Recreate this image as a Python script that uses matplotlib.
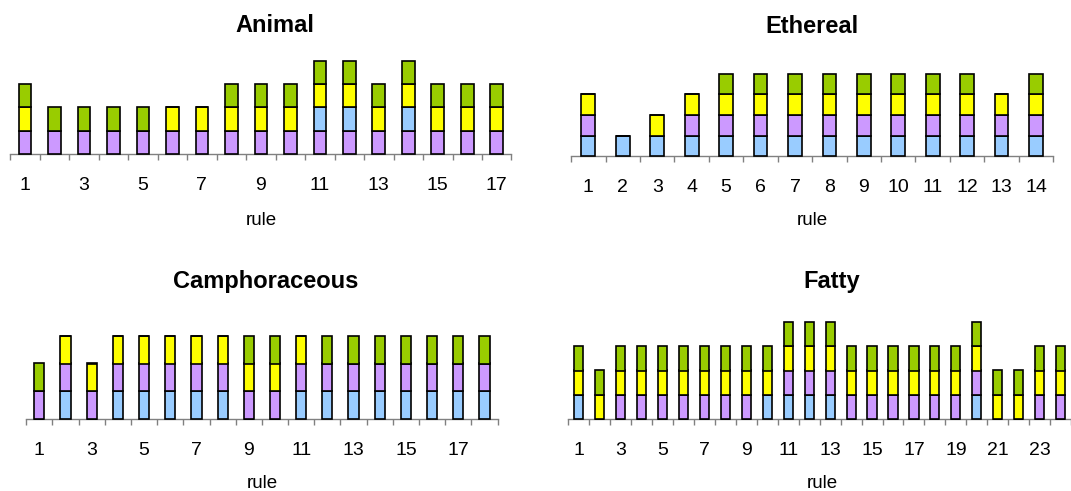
import matplotlib
matplotlib.use("Agg")
import matplotlib.pyplot as plt
import numpy as np

plt.rcParams['font.family'] = ['Liberation Sans', 'DejaVu Sans']

# ---------------- data ----------------
animal_rules = list(range(1, 18))
animal_purple = [1] * 17
animal_blue = [0, 0, 0, 0, 0, 0, 0, 0, 0, 0, 1, 1, 0, 1, 0, 0, 0]
animal_yellow = [1, 0, 0, 0, 0, 1, 1, 1, 1, 1, 1, 1, 1, 1, 1, 1, 1]
animal_green = [1, 1, 1, 1, 1, 0, 0, 1, 1, 1, 1, 1, 1, 1, 1, 1, 1]

ethereal_rules = list(range(1, 15))
ethereal_blue = [1] * 14
ethereal_purple = [1, 0, 0, 1, 1, 1, 1, 1, 1, 1, 1, 1, 1, 1]
ethereal_yellow = [1, 0, 1, 1, 1, 1, 1, 1, 1, 1, 1, 1, 1, 1]
ethereal_green = [0, 0, 0, 0, 1, 1, 1, 1, 1, 1, 1, 1, 0, 1]

camph_rules = list(range(1, 19))
camph_blue = [0, 1, 0, 1, 1, 1, 1, 1, 0, 0, 1, 1, 1, 1, 1, 1, 1, 1]
camph_purple = [1] * 18
camph_yellow = [0, 1, 1, 1, 1, 1, 1, 1, 1, 1, 1, 0, 0, 0, 0, 0, 0, 0]
camph_green = [1, 0, 0, 0, 0, 0, 0, 0, 1, 1, 0, 1, 1, 1, 1, 1, 1, 1]

fatty_rules = list(range(1, 25))
fatty_blue = [1, 0, 0, 0, 0, 0, 0, 0, 0, 1, 1, 1, 1, 0, 0, 0, 0, 0, 0, 1, 0, 0, 0, 0]
fatty_purple = [0, 0, 1, 1, 1, 1, 1, 1, 1, 0, 1, 1, 1, 1, 1, 1, 1, 1, 1, 1, 0, 0, 1, 1]
fatty_yellow = [1] * 24
fatty_green = [1] * 24

titles = ["Animal", "Ethereal", "Camphoraceous", "Fatty"]
xlabel = "rule"

# ---------------- style ----------------
C_BLUE = "#99CCFF"
C_PURPLE = "#CC99FF"
C_YELLOW = "#FFFF00"
C_GREEN = "#99CC00"
AXIS_GRAY = "#808080"

W, H = 1071, 491
fig = plt.figure(figsize=(W / 100, H / 100), dpi=100)

panels = [
    dict(title=titles[0], rules=animal_rules,
         series=[(animal_purple, C_PURPLE), (animal_blue, C_BLUE),
                 (animal_yellow, C_YELLOW), (animal_green, C_GREEN)],
         x0=10.3, cat=29.48, base=154.0, seg=23.3, ymax=4.2, xmax=17.5,
         width=0.43, labels=list(range(1, 18, 2)),
         title_xy=(275, 32.5), xl_xy=(261, 225)),
    dict(title=titles[1], rules=ethereal_rules,
         series=[(ethereal_blue, C_BLUE), (ethereal_purple, C_PURPLE),
                 (ethereal_yellow, C_YELLOW), (ethereal_green, C_GREEN)],
         x0=571.1, cat=34.44, base=156.3, seg=20.7, ymax=4.2, xmax=14.5,
         width=0.40, labels=list(range(1, 15)),
         title_xy=(812, 33), xl_xy=(812, 225)),
    dict(title=titles[2], rules=camph_rules,
         series=[(camph_blue, C_BLUE), (camph_purple, C_PURPLE),
                 (camph_yellow, C_YELLOW), (camph_green, C_GREEN)],
         x0=26.2, cat=26.19, base=419.3, seg=27.9, ymax=3.2, xmax=18.5,
         width=0.39, labels=list(range(1, 19, 2)),
         title_xy=(266, 288), xl_xy=(262, 488)),
    dict(title=titles[3], rules=fatty_rules,
         series=[(fatty_blue, C_BLUE), (fatty_purple, C_PURPLE),
                 (fatty_yellow, C_YELLOW), (fatty_green, C_GREEN)],
         x0=568.4, cat=21.18, base=419.3, seg=24.4, ymax=4.2, xmax=None,
         width=0.44, labels=list(range(1, 25, 2)),
         title_xy=(832, 288), xl_xy=(822, 488)),
]

for p in panels:
    x0 = p["x0"]
    if p["xmax"] is None:
        x1 = W
        xmax = 0.5 + (x1 - x0) / p["cat"]
    else:
        xmax = p["xmax"]
        x1 = x0 + (xmax - 0.5) * p["cat"]
    top = p["base"] - p["ymax"] * p["seg"]
    ax = fig.add_axes([x0 / W, (H - p["base"]) / H, (x1 - x0) / W,
                       (p["base"] - top) / H])
    x = np.array(p["rules"])
    bottom = np.zeros(len(x))
    for vals, col in p["series"]:
        v = np.array(vals, dtype=float)
        ax.bar(x, v, p["width"], bottom=bottom, color=col, edgecolor="black",
               linewidth=1.2, clip_on=False, zorder=3)
        bottom += v
    ax.set_xlim(0.5, xmax)
    ax.set_ylim(0, p["ymax"])
    for s in ["top", "right", "left"]:
        ax.spines[s].set_visible(False)
    ax.spines["bottom"].set_color(AXIS_GRAY)
    ax.spines["bottom"].set_linewidth(1.0)
    ax.set_yticks([])
    ax.set_xticks(p["labels"])
    ax.set_xticklabels([str(v) for v in p["labels"]], fontsize=14)
    ax.set_xticks(np.arange(0.5, len(x) + 1.0, 1.0), minor=True)
    ax.tick_params(axis="x", which="major", length=0, pad=16.3)
    ax.tick_params(axis="x", which="minor", length=4.3, width=1.0,
                   color=AXIS_GRAY, direction="out")
    ax.patch.set_alpha(0)

    tx, ty = ax.transAxes.inverted().transform((p["title_xy"][0], H - p["title_xy"][1]))
    ax.set_title(p["title"], x=tx, y=ty, pad=0, fontsize=17, fontweight="bold",
                 va="baseline", ha="center")
    lx, ly = ax.transAxes.inverted().transform((p["xl_xy"][0], H - p["xl_xy"][1]))
    ax.set_xlabel(xlabel, fontsize=13.5)
    ax.xaxis.set_label_coords(lx, ly)
    ax.xaxis.label.set_va("baseline")

fig.savefig("out.png", dpi=100)
